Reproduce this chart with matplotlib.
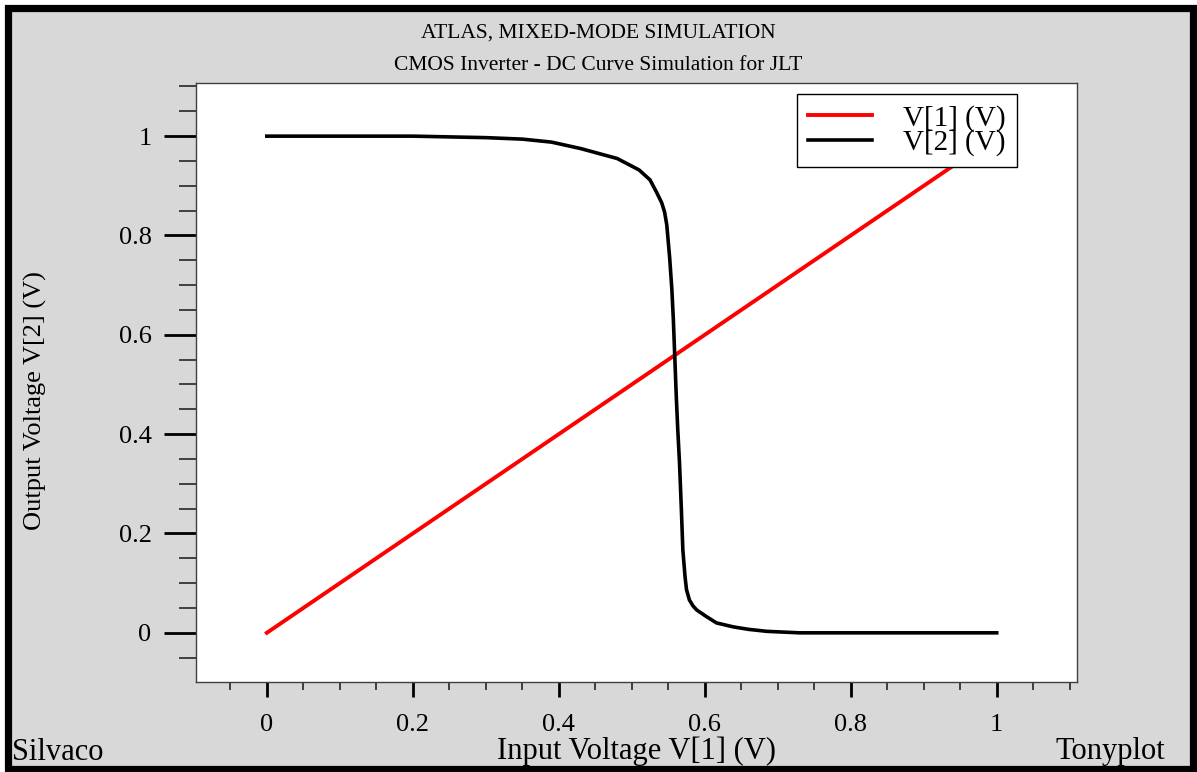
import matplotlib
matplotlib.use("Agg")

import matplotlib.pyplot as plt
from matplotlib.patches import Rectangle
from matplotlib.ticker import MultipleLocator

plt.rcParams["font.family"] = ["Liberation Serif", "DejaVu Serif"]

# -----------------------------
# Data
# -----------------------------
# V[1] is the swept input, plotted against itself
v1_in = [0.0, 0.25, 0.5, 0.75, 1.0]
v1_out = [0.0, 0.25, 0.5, 0.75, 1.0]

# V[2]: inverter output
v2_in = [0.0, 0.1, 0.2, 0.3, 0.35, 0.39, 0.43, 0.48, 0.51, 0.525, 0.534,
         0.541, 0.545, 0.548, 0.552, 0.555, 0.557, 0.559, 0.561, 0.563,
         0.5655, 0.568, 0.570, 0.573, 0.575, 0.579, 0.584, 0.589, 0.602,
         0.616, 0.639, 0.66, 0.685, 0.73, 0.8, 0.9, 1.0]
v2_out = [1.0, 1.0, 1.0, 0.997, 0.994, 0.988, 0.975, 0.955, 0.932, 0.912,
          0.887, 0.866, 0.847, 0.821, 0.754, 0.69, 0.63, 0.553, 0.476, 0.41,
          0.34, 0.247, 0.167, 0.113, 0.087, 0.066, 0.054, 0.046, 0.033,
          0.020, 0.012, 0.007, 0.003, 0.0, 0.0, 0.0, 0.0]

W, H = 1197, 772
fig = plt.figure(figsize=(W / 100, H / 100), dpi=100)
fig.patch.set_facecolor("white")

# grey panel with black frame (behind the axes)
fig.patches.append(Rectangle((7.5 / W, 3.5 / H), (1193 - 7.5) / W, (764.5 - 3.5) / H,
                             transform=fig.transFigure, facecolor="#d8d8d8",
                             edgecolor="black", linewidth=5.2, zorder=-10))

ax = fig.add_axes([196 / W, (H - 682) / H, (1077 - 196) / W, (682 - 83) / H])
ax.set_zorder(2)
ax.set_facecolor("white")

ax.plot(v1_in, v1_out, color="#ff0000", lw=2.8, label="V[1] (V)")
ax.plot(v2_in, v2_out, color="black", lw=2.6, label="V[2] (V)")

ax.set_xlim(-0.097, 1.11)
ax.set_ylim(-0.099, 1.107)

ax.xaxis.set_major_locator(MultipleLocator(0.2))
ax.xaxis.set_minor_locator(MultipleLocator(0.05))
ax.yaxis.set_major_locator(MultipleLocator(0.2))
ax.yaxis.set_minor_locator(MultipleLocator(0.05))
ax.set_xticklabels(["0" if abs(t) < 1e-9 else ("1" if abs(t - 1) < 1e-9 else f"{t:.1f}")
                    for t in ax.get_xticks()])
ax.set_yticklabels(["0" if abs(t) < 1e-9 else ("1" if abs(t - 1) < 1e-9 else f"{t:.1f}")
                    for t in ax.get_yticks()])

ax.tick_params(axis="x", which="major", direction="out", length=11, width=2,
               pad=12, labelsize=19, color="black")
ax.tick_params(axis="x", which="minor", direction="out", length=6, width=1.3,
               color="#333333")
ax.tick_params(axis="y", which="major", direction="out", length=23, width=2,
               pad=9, labelsize=19, color="black")
ax.tick_params(axis="y", which="minor", direction="out", length=12.5, width=1.3,
               color="#333333")

for s in ax.spines.values():
    s.set_linewidth(1.0)
    s.set_color("#404040")

ax.set_xlabel("Input Voltage V[1] (V)", fontsize=22, va="center")
ax.xaxis.set_label_coords(0.5, (682 - 751) / 599)
ax.set_ylabel("Output Voltage V[2] (V)", fontsize=19, va="center")
ax.yaxis.set_label_coords((35 - 196) / 881, (682 - 401) / 599)

leg = ax.legend(loc="upper left", bbox_to_anchor=(797 / W, 1 - 94 / H),
                bbox_transform=fig.transFigure, fontsize=21, frameon=True,
                fancybox=False, framealpha=1, edgecolor="black",
                borderaxespad=0, borderpad=0.38, labelspacing=-0.1,
                handlelength=2.2, handletextpad=1.05)
leg.get_frame().set_linewidth(1.0)

fig.text(598 / W, 1 - 33 / H, "ATLAS, MIXED-MODE SIMULATION", ha="center",
         va="center", fontsize=15.5)
fig.text(598 / W, 1 - 65 / H, "CMOS Inverter - DC Curve Simulation for JLT",
         ha="center", va="center", fontsize=15.5)
fig.text(12 / W, 1 - 752 / H, "Silvaco", ha="left", va="center", fontsize=22)
fig.text(1165 / W, 1 - 752 / H, "Tonyplot", ha="right", va="center", fontsize=22)

fig.savefig("out.png", dpi=100)
plt.close(fig)
